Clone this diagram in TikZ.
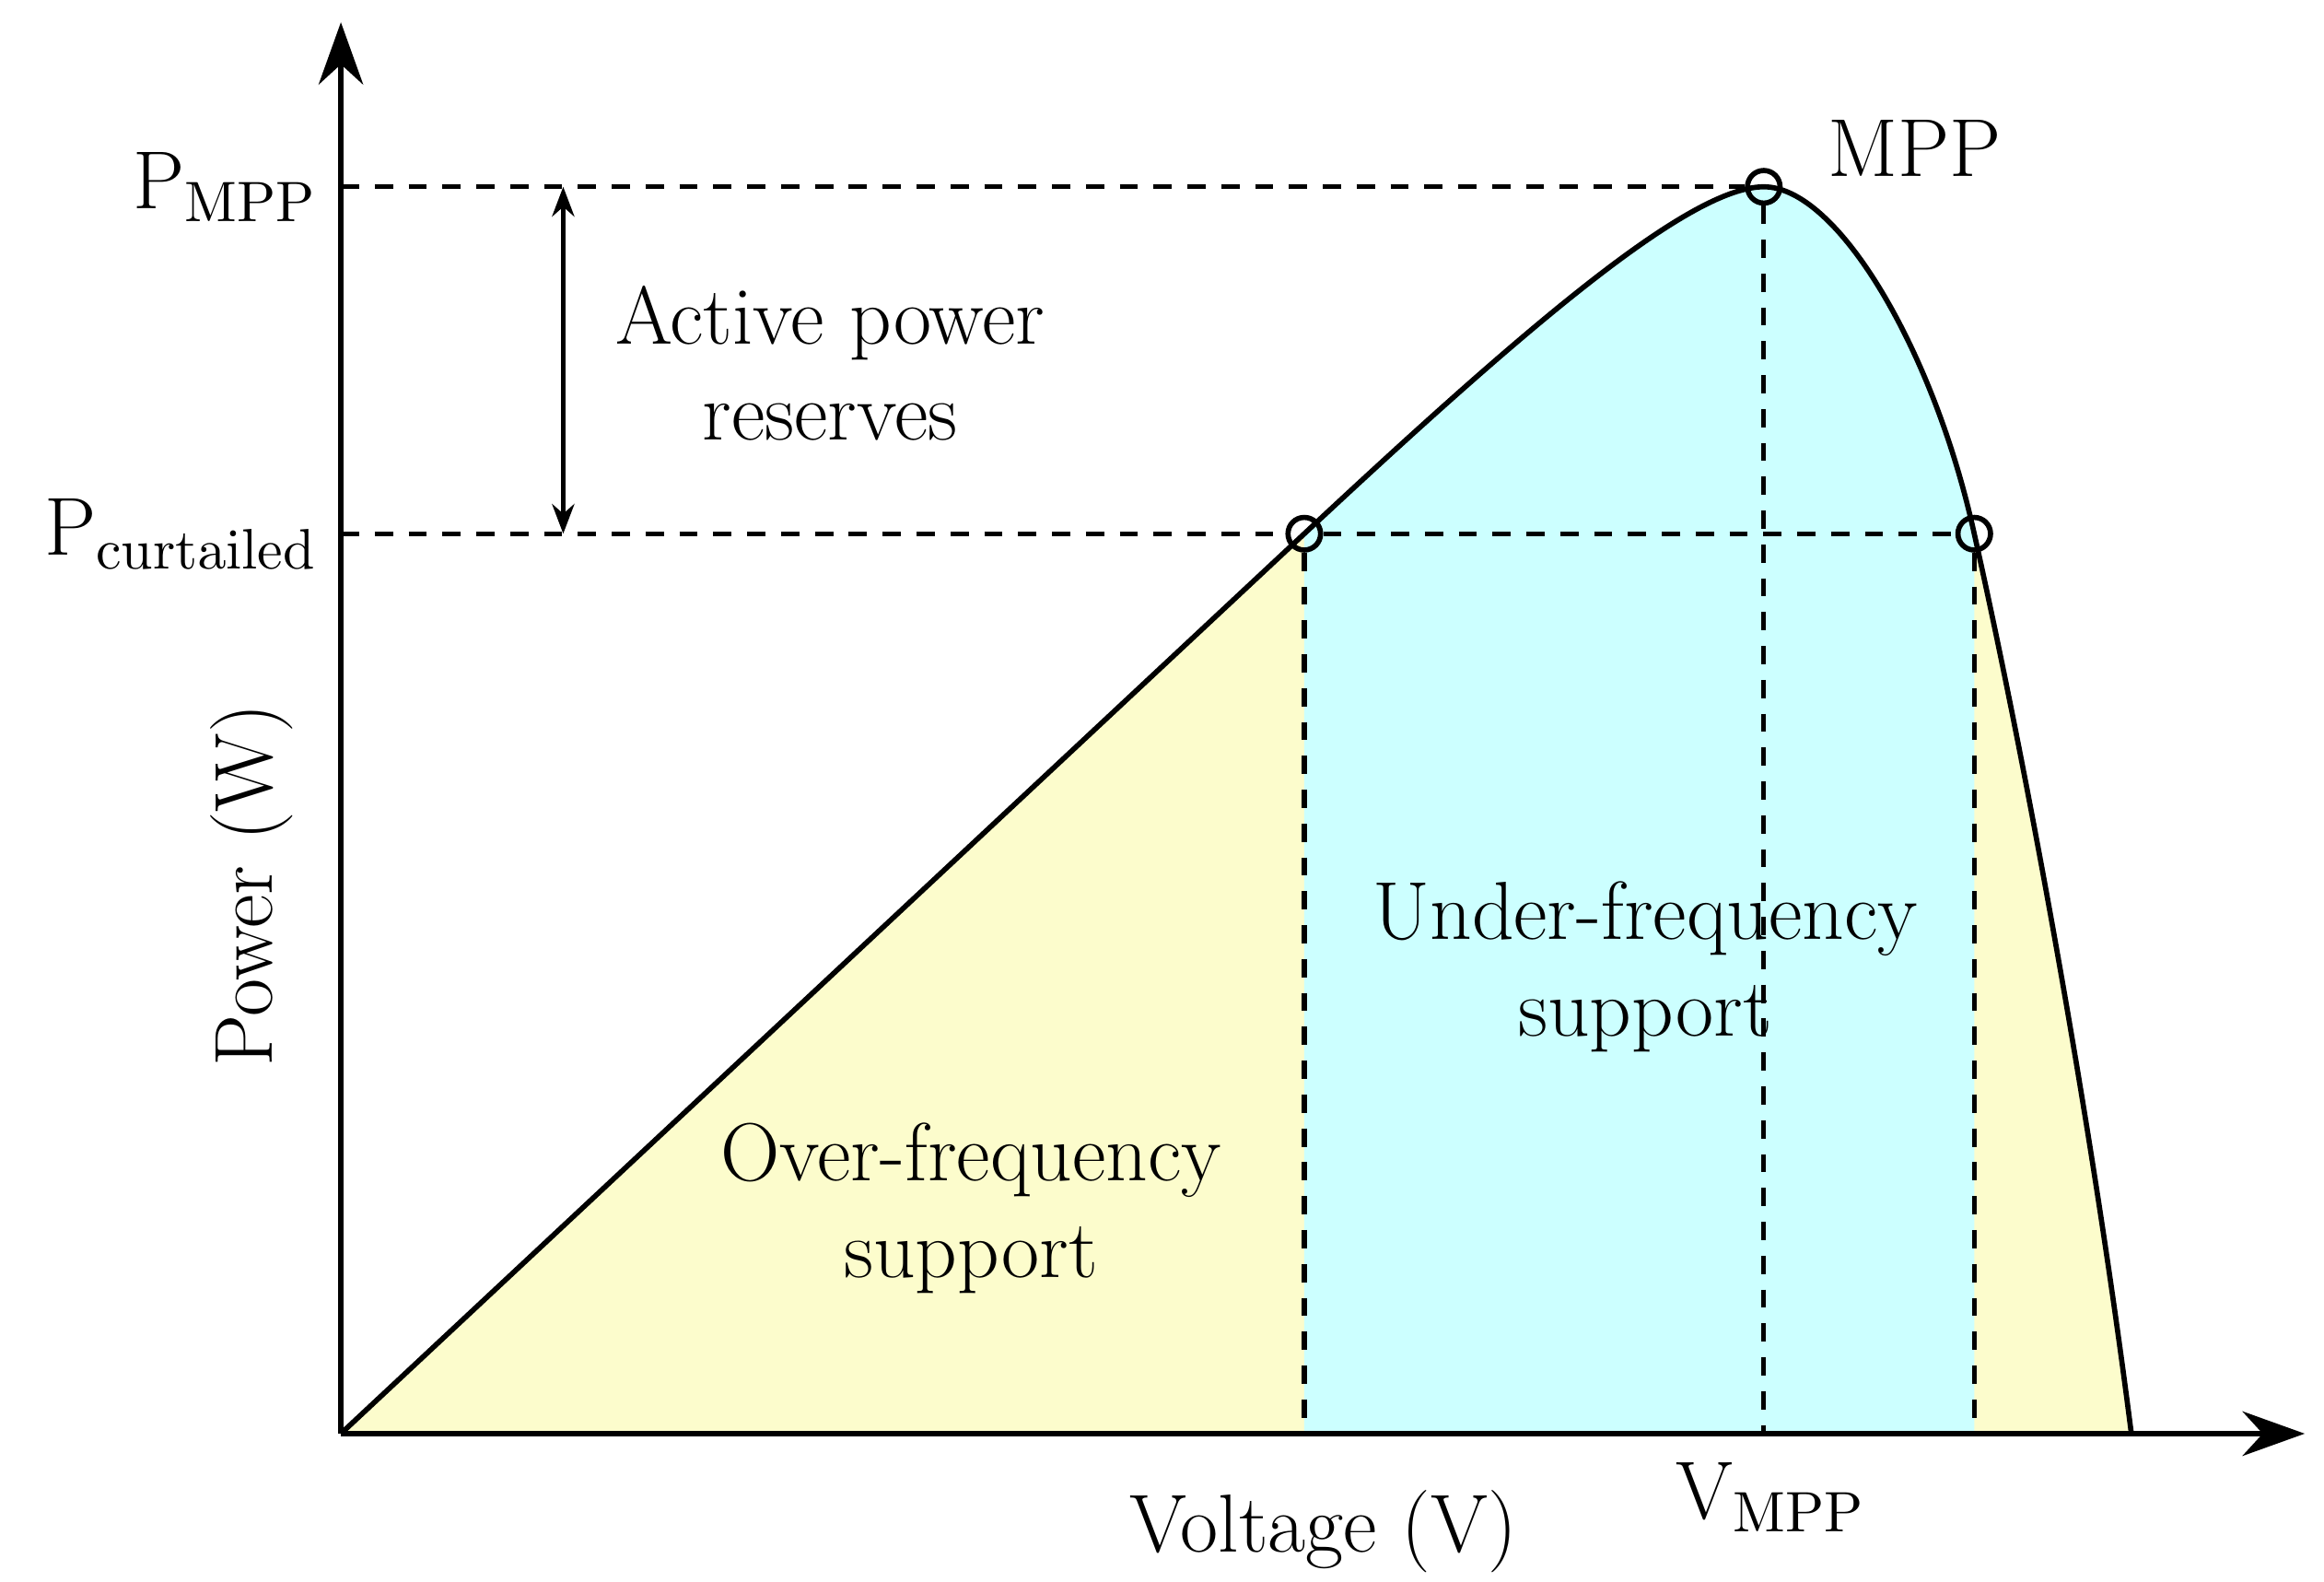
\documentclass[tikz,border=0pt]{standalone}
\usepackage{amsmath}
\usetikzlibrary{arrows.meta}
\definecolor{overfill}{HTML}{FCFCCC}
\definecolor{underfill}{HTML}{CCFFFF}
\begin{document}
\begin{tikzpicture}[
    every node/.style={font=\fontsize{15.8}{18.5}\selectfont, align=center},
    axis/.style={line width=1pt, -{Stealth[length=0.42cm, width=0.3cm]}},
    guide/.style={dashed, line width=0.9pt, dash pattern=on 3.5pt off 3pt},
    opmark/.style={circle, draw, line width=1pt, minimum size=0.22cm, inner sep=0pt}]
  \useasboundingbox (-2.30,-1.00) rectangle (13.38,9.67);
  % curve path
  \def\pvcurve{(0,0) -- (6.5,6.07) .. controls (8.0,7.47) and (9.1,8.41) .. (9.6,8.41)
      .. controls (10.1,8.41) and (10.75,7.3) .. (11.02,6.07)
      .. controls (11.35,4.6) and (11.8,2.2) .. (12.08,0) -- cycle}
  \fill[overfill] \pvcurve;
  \begin{scope}
    \clip (6.5,0) rectangle (11.02,9);
    \fill[underfill] \pvcurve;
  \end{scope}
  \draw[line width=1pt] (0,0) -- (6.5,6.07) .. controls (8.0,7.47) and (9.1,8.41) .. (9.6,8.41)
      .. controls (10.1,8.41) and (10.75,7.3) .. (11.02,6.07)
      .. controls (11.35,4.6) and (11.8,2.2) .. (12.08,0);
  % axes
  \coordinate (o) at (0,0);
  \coordinate (ytop) at (0,9.52);
  \coordinate (xend) at (13.25,0);
  \draw[axis] (o) -- (ytop);
  \draw[axis] (o) -- (xend);
  % points
  \node[opmark] (mpp) at (9.6,8.41) {};
  \node[opmark] (c1) at (6.5,6.07) {};
  \node[opmark] (c2) at (11.02,6.07) {};
  \coordinate (ympp) at (0,8.41);
  \coordinate (ycur) at (0,6.07);
  \coordinate (x1) at (6.5,0);
  \coordinate (x2) at (9.6,0);
  \coordinate (x3) at (11.02,0);
  \draw[guide] (ympp) -- (mpp);
  \draw[guide] (ycur) -- (c1) -- (c2);
  \draw[guide] (mpp) -- (x2);
  \draw[guide] (c1) -- (x1);
  \draw[guide] (c2) -- (x3);
  % reserve arrow
  \coordinate (ra) at (1.5,8.41);
  \coordinate (rb) at (1.5,6.07);
  \draw[line width=0.9pt, {Stealth[length=0.2cm]}-{Stealth[length=0.2cm]}] (ra) -- (rb);
  % labels
  \node[anchor=east, inner sep=0pt] (lpmpp) at (-0.15,8.41) {P$_{\mathrm{MPP}}$};
  \node[anchor=east, inner sep=0pt] (lpcur) at (-0.15,6.07) {P$_{\mathrm{curtailed}}$};
  \node[rotate=90] (lpow) at (-0.6,3.7) {Power (W)};
  \node (lvol) at (6.63,-0.66) {Voltage (V)};
  \node (lvmpp) at (9.65,-0.43) {V$_{\mathrm{MPP}}$};
  \node (lmpp) at (10.62,8.67) {MPP};
  \node (lres) at (3.3,7.22) {Active power\\reserves};
  \node (lover) at (4.25,1.52) {Over-frequency\\support};
  \node (lunder) at (8.8,3.15) {Under-frequency\\support};
\end{tikzpicture}
\end{document}
